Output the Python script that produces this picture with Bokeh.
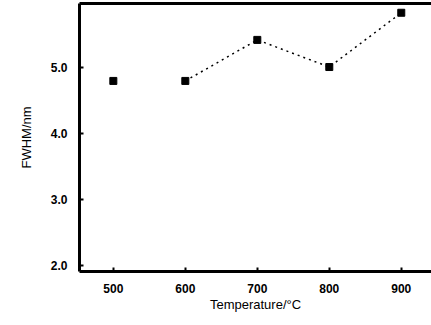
from bokeh.plotting import figure
from bokeh.models import LinearAxis, FixedTicker, Range1d, PrintfTickFormatter
from bokeh.embed import file_html
from bokeh.resources import INLINE

temps = [500, 600, 700, 800, 900]
fwhm = [4.79, 4.79, 5.41, 5.0, 5.82]
line_temps = [600, 700, 800, 900]
line_fwhm = [4.79, 5.41, 5.0, 5.82]
y_ticks = [2.0, 3.0, 4.0, 5.0]
x_ticks = [500, 600, 700, 800, 900]

p = figure(width=431, height=320, output_backend="svg", toolbar_location=None,
           x_range=Range1d(453, 942), y_range=Range1d(1.91, 5.96),
           min_border_left=79, min_border_right=0, min_border_top=3, min_border_bottom=49)
p.outline_line_color = None
p.grid.grid_line_color = None
p.background_fill_color = "white"

p.line(line_temps, line_fwhm, line_color="black", line_width=1.5, line_dash="2 4")
p.scatter(temps, fwhm, marker="square", size=7, color="black")

for ax in (p.xaxis[0], p.yaxis[0]):
    ax.axis_line_width = 3
    ax.axis_line_color = "black"
    ax.major_tick_in = 4
    ax.major_tick_out = 0
    ax.major_tick_line_width = 2
    ax.minor_tick_line_color = None
    ax.major_label_text_font = "Liberation Sans"
    ax.major_label_text_font_size = "12px"
    ax.major_label_text_font_style = "bold"
    ax.major_label_text_color = "black"
    ax.axis_label_text_font = "Liberation Sans"
    ax.axis_label_text_font_size = "13px"
    ax.axis_label_text_font_style = "normal"
    ax.axis_label_text_color = "black"

p.xaxis[0].ticker = FixedTicker(ticks=x_ticks)
p.yaxis[0].ticker = FixedTicker(ticks=y_ticks)
p.yaxis[0].formatter = PrintfTickFormatter(format="%.1f")
p.xaxis[0].axis_label = "Temperature/°C"
p.yaxis[0].axis_label = "FWHM/nm"
p.xaxis[0].major_label_standoff = 12
p.yaxis[0].major_label_standoff = 12
p.xaxis[0].axis_label_standoff = 1
p.yaxis[0].axis_label_standoff = 14

top = LinearAxis(axis_line_width=3, axis_line_color="black", major_tick_line_color=None,
                 minor_tick_line_color=None, ticker=FixedTicker(ticks=[]))
p.add_layout(top, "above")

open("out.html", "w").write(file_html(p, INLINE))
